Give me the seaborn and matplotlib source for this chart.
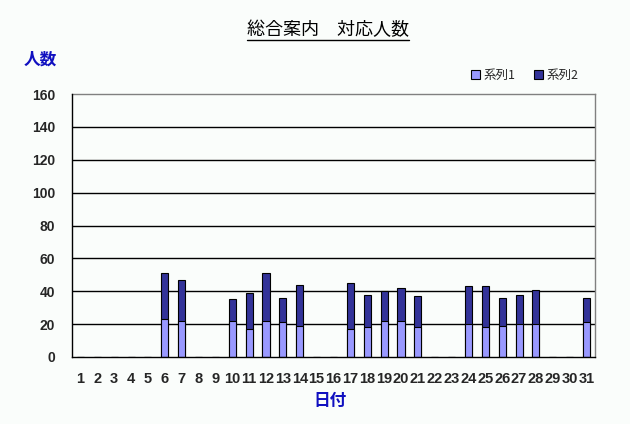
import matplotlib
matplotlib.use("Agg")
import matplotlib.pyplot as plt
import seaborn as sns
import pandas as pd
from matplotlib.patches import Patch
from matplotlib.lines import Line2D

days = [str(d) for d in range(1, 32)]
series1 = [0, 0, 0, 0, 0, 23, 22, 0, 0, 22, 17, 22, 21, 19, 0, 0,
           17, 18, 22, 22, 18, 0, 0, 20, 18, 19, 20, 20, 0, 0, 21]
series2 = [0, 0, 0, 0, 0, 28, 25, 0, 0, 13, 22, 29, 15, 25, 0, 0,
           28, 20, 18, 20, 19, 0, 0, 23, 25, 17, 18, 21, 0, 0, 15]
yticks = [0, 20, 40, 60, 80, 100, 120, 140, 160]
series_names = ["系列1", "系列2"]
title = "総合案内　対応人数"
ylabel = "人数"
xlabel = "日付"

sns.set_style("white")
plt.rcParams['font.family'] = ['Noto Sans CJK JP', 'DejaVu Sans']

c1 = "#9999FF"
c2 = "#333399"
bg = "#FAFDFB"

df = pd.DataFrame({"day": days, "s1": series1, "s2": series2})
df["total"] = df["s1"] + df["s2"]

fig = plt.figure(figsize=(6.3, 4.24), dpi=100, facecolor=bg)
ax = fig.add_axes([72/630, 1-357/424, (595-72)/630, (357-94)/424])
ax.set_facecolor(bg)

sns.barplot(data=df, x="day", y="total", order=days, color=c2, saturation=1,
            width=0.42, edgecolor="black", linewidth=0.8, ax=ax, zorder=3)
sns.barplot(data=df, x="day", y="s1", order=days, color=c1, saturation=1,
            width=0.42, edgecolor="black", linewidth=0.8, ax=ax, zorder=4)

ax.set_xlim(-0.5, 30.5)
ax.set_ylim(0, 160)
ax.set_yticks(yticks)
ax.set_yticklabels([str(v) for v in yticks], fontsize=10, fontweight="bold",
                   family="Liberation Sans")
ax.set_xticks(range(31))
ax.set_xticklabels(days, fontsize=10.5, fontweight="bold", family="Liberation Sans")
ax.set_xticks([i - 0.5 for i in range(32)], minor=True)
ax.tick_params(axis="x", which="major", length=0, pad=11)
ax.tick_params(axis="x", which="minor", length=4, width=0.8, color="black", direction="out")
ax.tick_params(axis="y", which="major", length=4, width=0.8, color="black", direction="out", pad=8)
ax.set_xlabel("")
ax.set_ylabel("")

for y in yticks[1:-1]:
    ax.axhline(y, color="black", linewidth=1, zorder=1)

for s in ["left", "bottom"]:
    ax.spines[s].set_color("black")
    ax.spines[s].set_linewidth(1)
    ax.spines[s].set_zorder(5)
for s in ["top", "right"]:
    ax.spines[s].set_color("#808080")
    ax.spines[s].set_linewidth(1)
    ax.spines[s].set_visible(True)

t = fig.text(328/630, 1-30/424, title, ha="center", va="center", fontsize=13,
             color="black")
fig.text(40/630, 1-60/424, ylabel, ha="center", va="center", fontsize=12,
         color="#1010C0", fontweight="bold")
fig.text(330/630, 1-401/424, xlabel, ha="center", va="center", fontsize=12,
         color="#1010C0", fontweight="bold")

handles = [Patch(facecolor=c1, edgecolor="black", linewidth=0.8),
           Patch(facecolor=c2, edgecolor="black", linewidth=0.8)]
fig.legend(handles, series_names, loc="center", bbox_to_anchor=(525/630, 1-75/424),
           ncol=2, frameon=False, fontsize=9, handlelength=0.7, handleheight=0.7,
           handletextpad=0.3, columnspacing=1.5)

fig.canvas.draw()
bb = t.get_window_extent(fig.canvas.get_renderer())
uy = bb.y0 - 1
fig.lines.append(Line2D([bb.x0 / 630, bb.x1 / 630], [uy / 424, uy / 424],
                        transform=fig.transFigure, color="black", linewidth=1))

fig.savefig("out.png", dpi=100, facecolor=bg)
